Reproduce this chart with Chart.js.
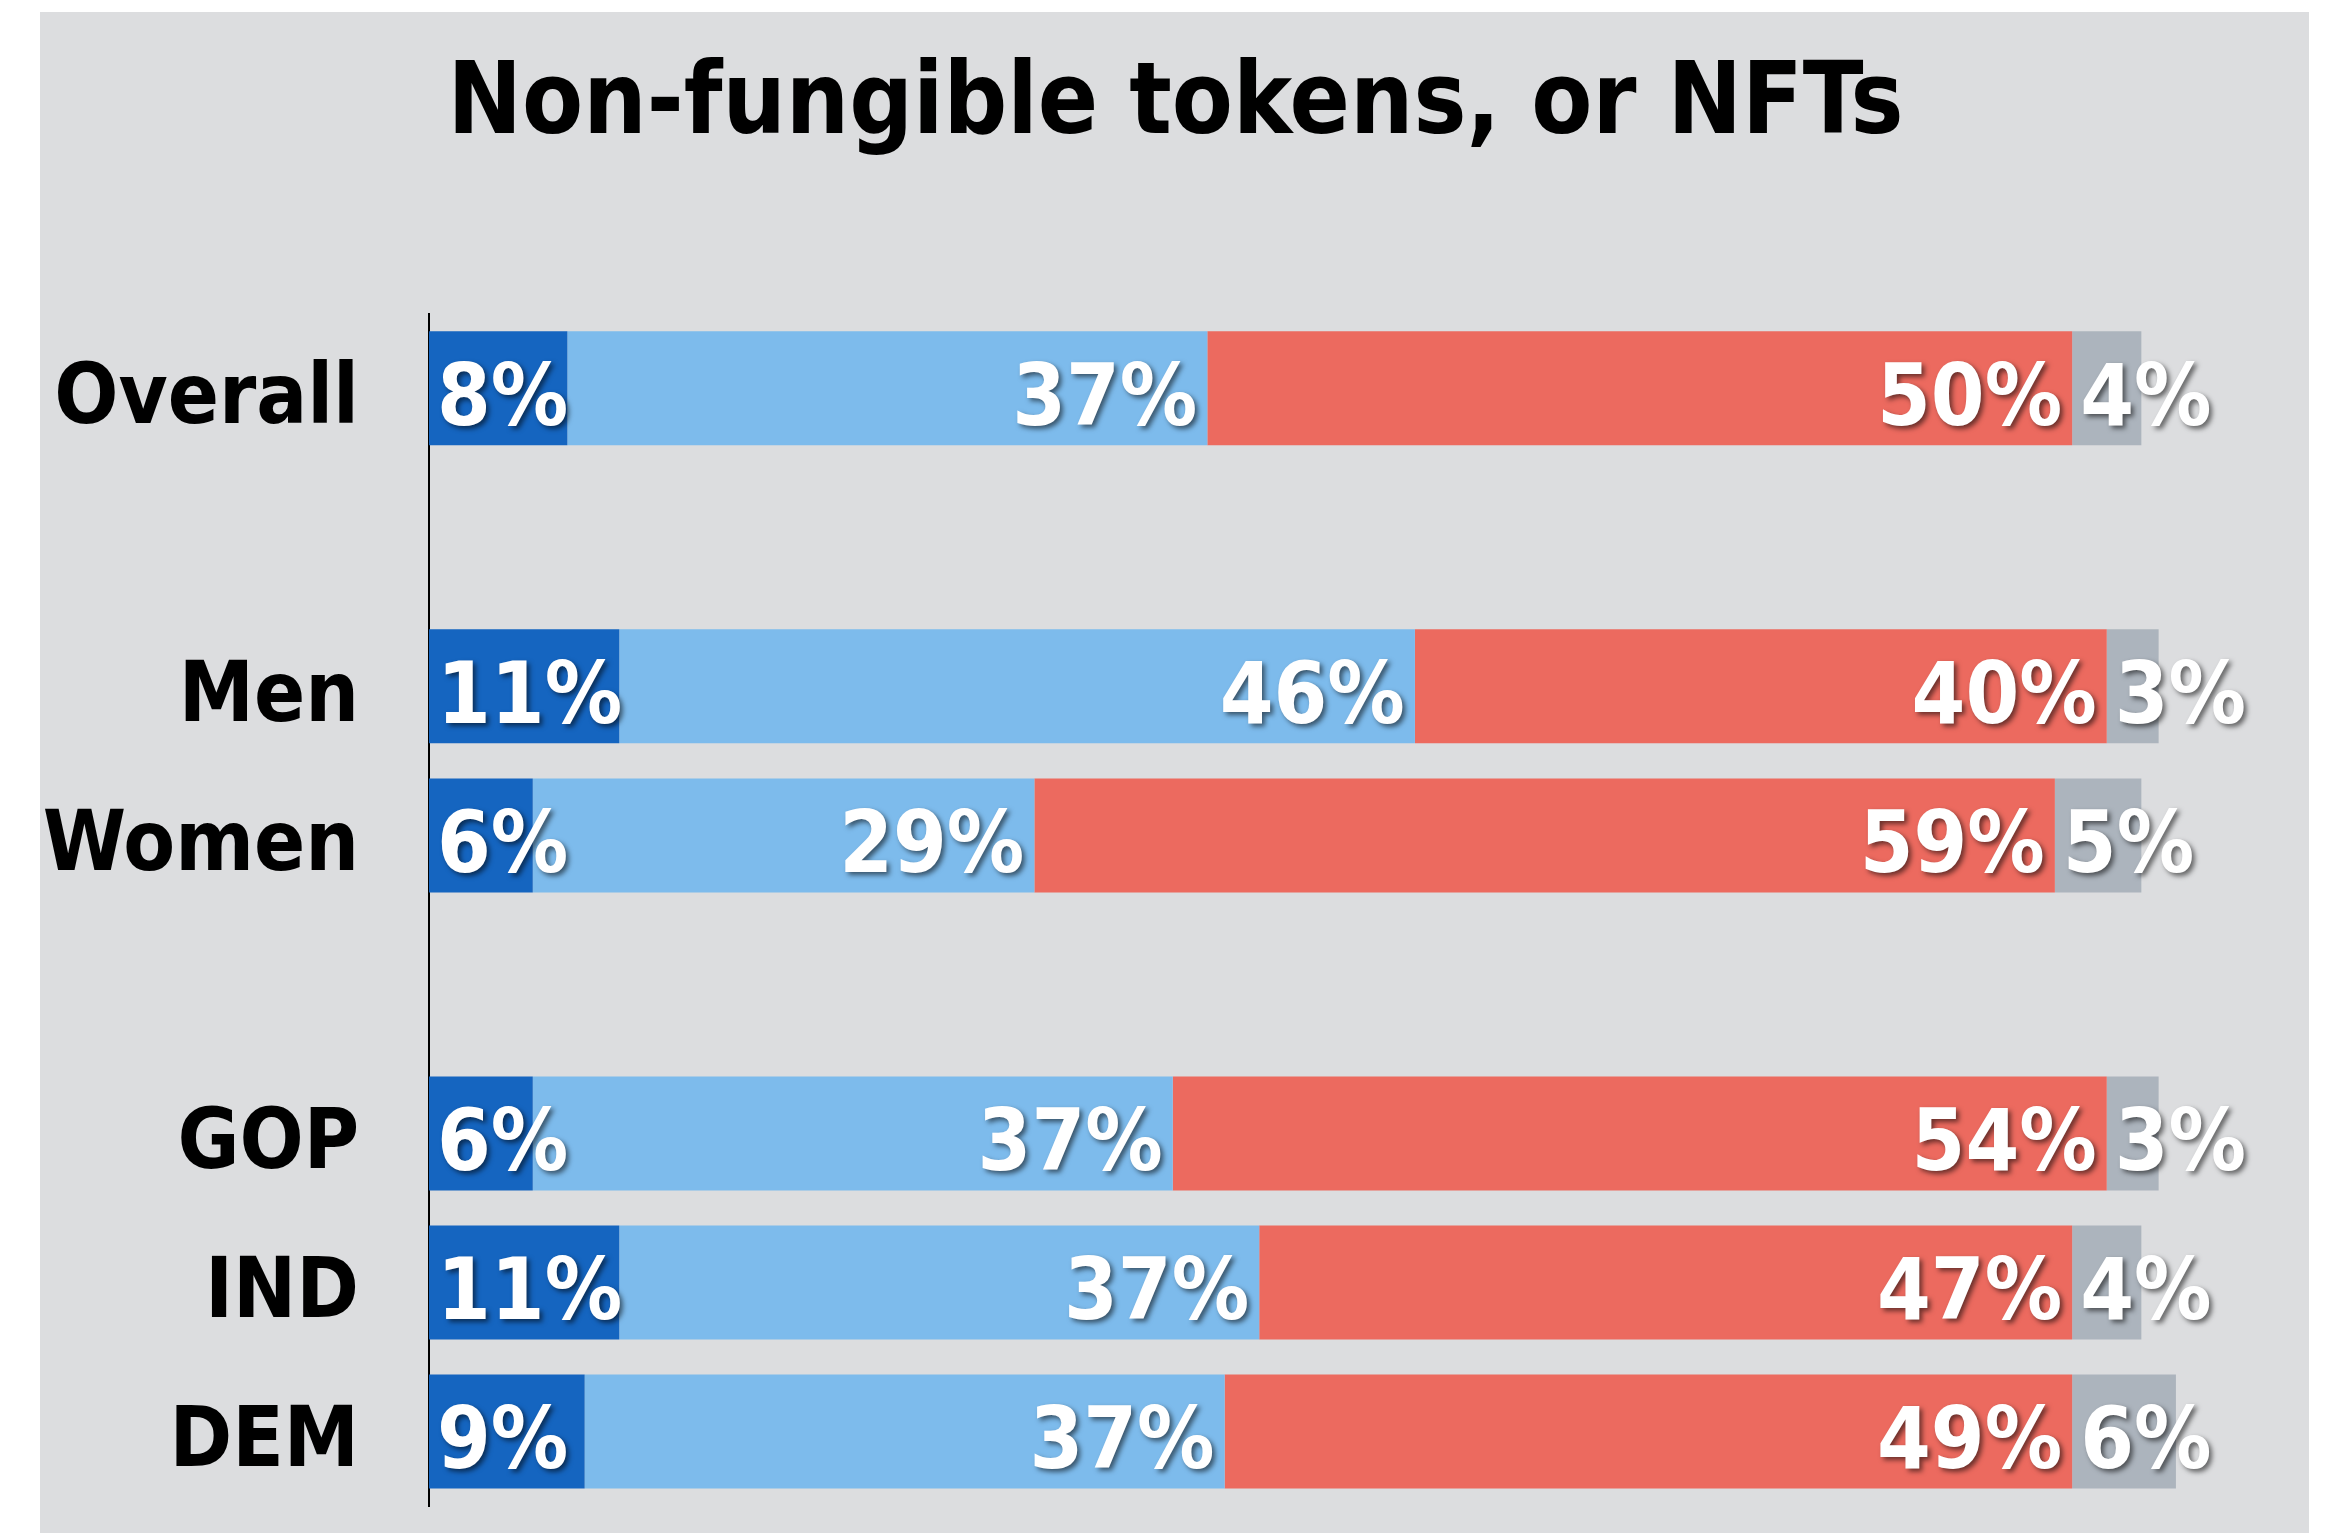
<!DOCTYPE html>
<html><head><meta charset="utf-8">
<script src="https://cdn.jsdelivr.net/npm/chart.js@4.4.1/dist/chart.umd.min.js"></script>
<style>html,body{margin:0;padding:0;background:#fff;overflow:hidden}#wrap{width:2337px;height:1533px;position:relative}</style>
</head><body><div id="wrap"><canvas id="c" width="2337" height="1533"></canvas></div>
<script>
const categories = ['Overall', '', 'Men', 'Women', '', 'GOP', 'IND', 'DEM'];
const seriesNames = ['Very familiar', 'Somewhat familiar', 'Not familiar', 'Unsure'];
const veryValues     = [8, null, 11, 6, null, 6, 11, 9];
const somewhatValues = [37, null, 46, 29, null, 37, 37, 37];
const notValues      = [50, null, 40, 59, null, 54, 47, 49];
const unsureValues   = [4, null, 3, 5, null, 3, 4, 6];
const titleText = 'Non-fungible tokens, or NFTs';

const FONT = '"DejaVu Sans Condensed", "DejaVu Sans", sans-serif';
const colors = ['#1565c0', '#7dbbec', '#ec6a5f', '#acb4bd'];
const anchors = ['start', 'end', 'end', 'start'];

const bgPlugin = {
  id: 'bg',
  beforeDraw(chart) {
    const ctx = chart.ctx;
    ctx.save();
    ctx.fillStyle = '#ffffff';
    ctx.fillRect(0, 0, chart.width, chart.height);
    ctx.fillStyle = '#dcdddf';
    ctx.fillRect(40, 12, 2269, 1521);
    ctx.restore();
  }
};

// centre the title over the grey panel rather than the whole canvas
const titleShift = {
  id: 'titleShift',
  afterLayout(chart) {
    if (chart.titleBlock) chart.titleBlock.left = 54;
  }
};

const labelPlugin = {
  id: 'segLabels',
  afterDatasetsDraw(chart) {
    const ctx = chart.ctx;
    ctx.save();
    ctx.font = 'bold 86px ' + FONT;
    ctx.fillStyle = '#ffffff';
    ctx.textBaseline = 'middle';
    ctx.shadowColor = 'rgba(0,0,0,0.55)';
    ctx.shadowOffsetX = 3;
    ctx.shadowOffsetY = 3;
    ctx.shadowBlur = 5;
    chart.data.datasets.forEach((ds, di) => {
      const meta = chart.getDatasetMeta(di);
      meta.data.forEach((el, i) => {
        const v = ds.data[i];
        if (v == null) return;
        const p = el.getProps(['x', 'y', 'base'], true);
        const txt = v + '%';
        if (anchors[di] === 'start') {
          ctx.textAlign = 'left';
          ctx.fillText(txt, Math.min(p.base, p.x) + 8, p.y + 14);
        } else {
          ctx.textAlign = 'right';
          ctx.fillText(txt, Math.max(p.base, p.x) - 10, p.y + 14);
        }
      });
    });
    ctx.restore();
  }
};

const seriesData = [veryValues, somewhatValues, notValues, unsureValues];

new Chart(document.getElementById('c'), {
  type: 'bar',
  data: {
    labels: categories,
    datasets: seriesData.map((d, i) => ({
      label: seriesNames[i],
      data: d,
      backgroundColor: colors[i],
      borderWidth: 0,
      barPercentage: 0.765,
      categoryPercentage: 1
    }))
  },
  options: {
    indexAxis: 'y',
    responsive: false,
    devicePixelRatio: 1,
    animation: false,
    layout: { padding: { left: 0, right: 40, top: 0, bottom: 27 } },
    plugins: {
      legend: { display: false },
      tooltip: { enabled: false },
      title: {
        display: true,
        text: titleText,
        color: '#000000',
        font: { family: FONT, size: 99, weight: 'bold', lineHeight: 1.2 },
        padding: { top: 48, bottom: 147 }
      }
    },
    scales: {
      x: { stacked: true, min: 0, max: 108, display: false },
      y: {
        stacked: true,
        grid: { display: false, drawTicks: false },
        border: { display: true, color: '#000000', width: 2 },
        ticks: { color: '#000000', padding: 70, labelOffset: 13, font: { family: FONT, size: 84, weight: 'bold' } },
        afterFit(s) { s.width = 429; s.paddingTop = 0; s.paddingBottom = 0; }
      }
    }
  },
  plugins: [bgPlugin, titleShift, labelPlugin]
});
</script></body></html>
